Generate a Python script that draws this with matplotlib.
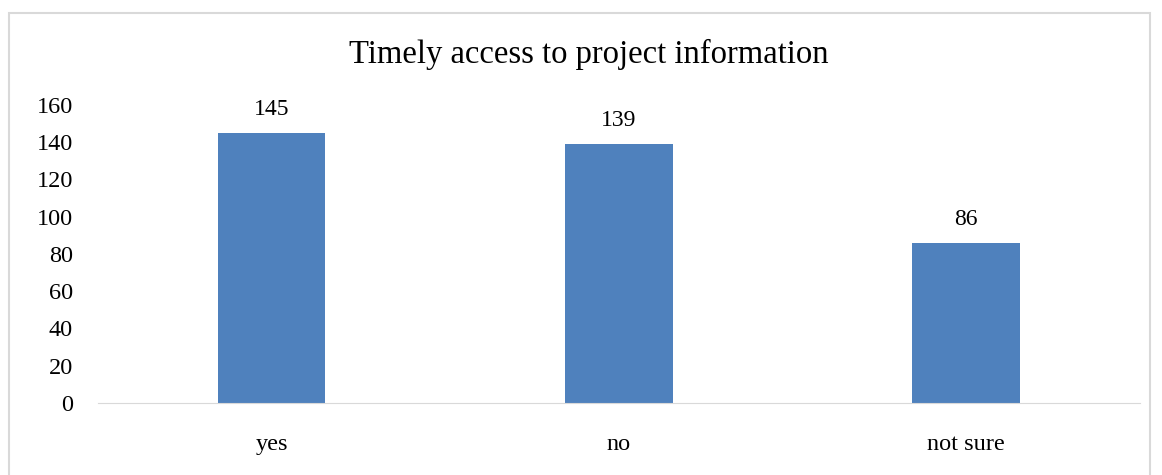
import matplotlib.pyplot as plt
from matplotlib.patches import Rectangle

categories = ["yes", "no", "not sure"]
values = [145, 139, 86]
yticks = [0, 20, 40, 60, 80, 100, 120, 140, 160]

plt.rcParams['font.family'] = ['Liberation Serif', 'DejaVu Serif']

fig = plt.figure(figsize=(11.62, 4.75), dpi=100)
ax = fig.add_axes([0.0843, 0.1516, 0.8967, 0.6274])

x = range(len(categories))
bars = ax.bar(x, values, width=0.31, color="#4F81BD")
for b, v in zip(bars, values):
    ax.text(b.get_x() + b.get_width() / 2, v + 7, str(v), ha="center", va="bottom", fontsize=17)

ax.set_xlim(-0.5, 2.5)
ax.set_ylim(0, 160)
ax.set_yticks(yticks)
ax.set_xticks(list(x))
ax.set_xticklabels(categories)
ax.tick_params(axis="both", length=0, labelsize=17.5)
ax.tick_params(axis="y", pad=18)
ax.tick_params(axis="x", pad=22)
for s in ["top", "right", "left"]:
    ax.spines[s].set_visible(False)
ax.spines["bottom"].set_color("#d9d9d9")

fig.text(0.507, 0.885, "Timely access to project information", ha="center", va="center", fontsize=23.5)

fig.patches.append(Rectangle((9 / 1162, -0.05), 1141 / 1162, 1.05 - 13.5 / 475,
                             transform=fig.transFigure, fill=False, edgecolor="#d9d9d9", lw=1.5))

fig.savefig("out.png", dpi=100)
